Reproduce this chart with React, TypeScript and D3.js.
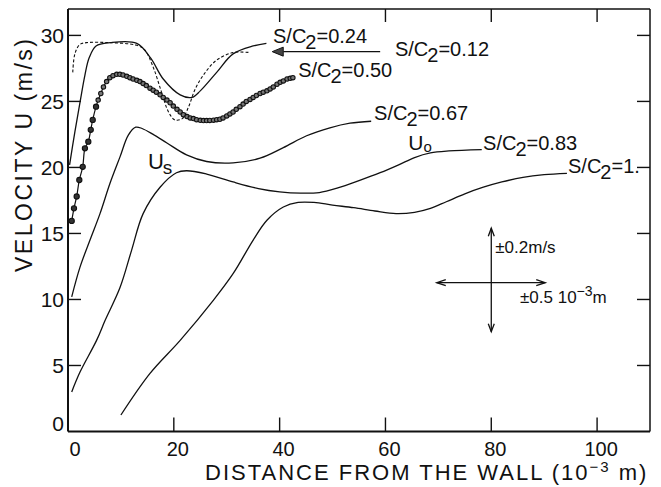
import React, { useEffect, useRef } from "react";
import * as d3 from "d3";

const W = 661;
const H = 487;

// axis ticks
const xTicks = [0, 20, 40, 60, 80, 100];
const yTicks = [0, 5, 10, 15, 20, 25, 30];

// velocity profiles, [distance (10^-3 m), U (m/s)]
const profile024 = [
  [0.3, 20.2], [1.3, 22.7], [2.3, 25.0], [3.2, 27.0], [4.0, 28.3], [5.3, 29.2],
  [8.0, 29.45], [13.0, 29.4], [15.6, 28.3], [18.0, 26.7], [21.2, 25.5], [23.4, 25.3],
  [25.0, 25.8], [28.1, 27.2], [31.2, 28.6], [35.0, 29.2], [37.5, 29.4],
];

const profile012 = [
  [0.9, 27.2], [1.3, 28.6], [2.2, 29.3], [3.5, 29.45], [8.0, 29.45], [13.0, 29.25],
  [14.5, 28.9], [16.1, 27.6], [17.6, 25.8], [19.0, 24.2], [20.2, 23.6], [21.6, 23.7],
  [22.8, 24.6], [24.0, 25.9], [25.6, 27.0], [28.0, 28.1], [31.2, 28.7], [34.4, 28.7],
];

const profile050 = [
  [0.7, 15.95], [1.13, 16.9], [1.64, 17.8], [2.14, 19.05], [2.78, 20.05], [3.2, 21.45],
  [3.84, 21.95], [4.3, 22.85], [4.67, 23.6], [5.3, 24.6], [5.7, 25.1], [6.2, 25.6],
  [6.7, 26.1], [7.3, 26.5], [7.9, 26.8], [8.5, 26.95], [9.2, 27.05], [9.8, 27.05],
  [10.4, 27.0], [11.1, 26.9], [11.7, 26.8], [12.3, 26.7], [13.0, 26.6], [13.6, 26.5],
  [14.2, 26.35], [14.8, 26.2], [15.5, 26.0], [16.1, 25.85], [16.7, 25.7], [17.4, 25.5],
  [18.0, 25.3], [18.7, 25.1], [19.3, 24.9], [19.9, 24.65], [20.6, 24.4], [21.2, 24.2],
  [21.8, 24.0], [22.5, 23.85], [23.1, 23.75], [23.7, 23.7], [24.3, 23.62], [25.0, 23.57],
  [25.6, 23.55], [26.2, 23.55], [26.8, 23.56], [27.5, 23.58], [28.1, 23.62], [28.7, 23.65],
  [29.3, 23.75], [30.0, 23.9], [30.6, 24.05], [31.2, 24.2], [31.8, 24.4], [32.5, 24.6],
  [33.1, 24.8], [33.7, 25.0], [34.4, 25.15], [35.0, 25.3], [35.6, 25.45], [36.3, 25.6],
  [36.9, 25.7], [37.6, 25.8], [38.2, 25.95], [38.8, 26.1], [39.5, 26.3], [40.1, 26.45],
  [40.7, 26.55], [41.4, 26.7], [42.0, 26.75], [42.5, 26.8],
];

const profile067 = [
  [0.7, 10.2], [2.27, 12.45], [4.16, 14.5], [6.05, 16.5], [7.94, 18.8], [9.83, 20.8],
  [11.4, 22.45], [12.8, 23.05], [14.0, 22.95], [16.1, 22.5], [18.7, 21.85], [22.4, 20.95],
  [26.2, 20.45], [31.2, 20.35], [36.3, 20.7], [40.7, 21.5], [45.1, 22.4], [49.5, 23.0],
  [53.3, 23.35], [57.3, 23.5],
];

const profile083 = [
  [0.7, 3.0], [2.27, 4.5], [5.4, 6.9], [7.0, 8.4], [9.83, 10.9], [12.0, 13.7],
  [14.2, 16.5], [17.4, 18.5], [20.5, 19.6], [22.4, 19.75], [26.2, 19.5], [31.2, 18.9],
  [36.0, 18.4], [40.0, 18.15], [44.0, 18.05], [47.5, 18.1], [51.0, 18.45], [55.0, 19.0],
  [59.0, 19.6], [62.5, 20.2], [65.5, 20.75], [68.5, 21.1], [72.0, 21.25], [78.2, 21.35],
];

const profile100 = [
  [10.0, 1.25], [15.5, 4.4], [21.2, 6.9], [27.5, 9.95], [31.2, 11.95], [35.0, 14.5],
  [37.6, 16.0], [40.7, 17.0], [43.5, 17.35], [46.5, 17.35], [50.0, 17.15], [54.0, 16.95],
  [58.0, 16.7], [62.0, 16.5], [65.5, 16.6], [68.5, 16.9], [71.5, 17.4], [75.0, 18.0],
  [78.5, 18.5], [82.0, 18.9], [86.0, 19.25], [90.0, 19.45], [94.3, 19.55],
];

// curve labels: S/C2 value and anchor (data units)
const ratioLabels = [
  { value: "0.24", x: 38.75, y: 29.43 },
  { value: "0.12", x: 61.8, y: 28.45 },
  { value: "0.50", x: 43.5, y: 26.85 },
  { value: "0.67", x: 57.85, y: 23.6 },
  { value: "0.83", x: 78.45, y: 21.33 },
  { value: "1.", x: 94.5, y: 19.58 },
];

const FONT = "'Liberation Sans', Arial, sans-serif";

const App = () => {
  const ref = useRef(null);

  useEffect(() => {
    const svg = d3.select(ref.current);
    svg.selectAll("*").remove();

    const x = d3.scaleLinear().domain([0, 110]).range([68, 650]);
    const y = d3.scaleLinear().domain([0, 32]).range([431.5, 9]);

    svg.append("rect").attr("width", W).attr("height", H).attr("fill", "#fff");

    const g = svg.append("g").attr("font-family", FONT).attr("fill", "#111");

    // frame
    const x0 = x(0), x1 = x(110), y0 = y(0), y1 = y(32);
    g.append("line").attr("x1", x0).attr("x2", x0).attr("y1", y1).attr("y2", y0)
      .attr("stroke", "#111").attr("stroke-width", 2);
    g.append("line").attr("x1", x0).attr("x2", x1).attr("y1", y0).attr("y2", y0)
      .attr("stroke", "#111").attr("stroke-width", 2);
    g.append("line").attr("x1", x0).attr("x2", x1).attr("y1", y1).attr("y2", y1)
      .attr("stroke", "#111").attr("stroke-width", 1.5);
    g.append("line").attr("x1", x1).attr("x2", x1).attr("y1", y1).attr("y2", y0)
      .attr("stroke", "#111").attr("stroke-width", 1.5);

    // inward ticks on all four sides
    const tk = g.append("g").attr("stroke", "#111").attr("stroke-width", 1.4);
    xTicks.filter(d => d > 0).forEach(d => {
      tk.append("line").attr("x1", x(d)).attr("x2", x(d)).attr("y1", y0).attr("y2", y0 - 14);
      tk.append("line").attr("x1", x(d)).attr("x2", x(d)).attr("y1", y1).attr("y2", y1 + 13);
    });
    yTicks.filter(d => d > 0).forEach(d => {
      tk.append("line").attr("x1", x0).attr("x2", x0 + 13).attr("y1", y(d)).attr("y2", y(d));
      tk.append("line").attr("x1", x1).attr("x2", x1 - 13).attr("y1", y(d)).attr("y2", y(d));
    });

    // tick labels
    g.selectAll(".xl").data(xTicks).enter().append("text")
      .attr("x", d => x(d) + (d === 0 ? 7 : 4))
      .attr("y", 455.5)
      .attr("text-anchor", "middle")
      .attr("font-size", 20)
      .text(d => d);
    g.selectAll(".yl").data(yTicks).enter().append("text")
      .attr("x", 64)
      .attr("y", d => y(d) + (d === 0 ? -8 : 0))
      .attr("dy", "0.36em")
      .attr("text-anchor", "end")
      .attr("font-size", 21)
      .text(d => d);

    // axis titles
    const xt = g.append("text").attr("x", 205).attr("y", 480)
      .attr("font-size", 22).attr("letter-spacing", 2);
    xt.append("tspan").text("DISTANCE FROM THE WALL (10");
    xt.append("tspan").attr("dy", -8).attr("font-size", 15).text("\u22123");
    xt.append("tspan").attr("dy", 8).text(" m)");

    g.append("text")
      .attr("transform", "translate(32,155.5) rotate(-90)")
      .attr("text-anchor", "middle")
      .attr("font-size", 23)
      .attr("textLength", 233)
      .attr("lengthAdjust", "spacing")
      .text("VELOCITY U (m/s)");

    // curves
    const line = d3.line()
      .x(d => x(d[0]))
      .y(d => y(d[1]))
      .curve(d3.curveCatmullRom.alpha(0.5));

    const curves = g.append("g").attr("fill", "none").attr("stroke", "#111");
    curves.append("path").attr("d", line(profile024)).attr("stroke-width", 1.3);
    curves.append("path").attr("d", line(profile012)).attr("stroke-width", 1.1)
      .attr("stroke-dasharray", "3,2");
    curves.append("path").attr("d", line(profile050)).attr("stroke-width", 1.2);
    curves.append("path").attr("d", line(profile067)).attr("stroke-width", 1.3);
    curves.append("path").attr("d", line(profile083)).attr("stroke-width", 1.3);
    curves.append("path").attr("d", line(profile100)).attr("stroke-width", 1.3);

    g.append("g").selectAll("circle").data(profile050).enter().append("circle")
      .attr("cx", d => x(d[0]))
      .attr("cy", d => y(d[1]))
      .attr("r", (d, i) => (i < 10 ? 2.6 : 2.2))
      .attr("fill", (d, i) => (i < 10 ? "#333" : "#777"))
      .attr("stroke", "#111")
      .attr("stroke-width", 1.1);

    // S/C2 labels
    ratioLabels.forEach(l => {
      const t = g.append("text").attr("x", x(l.x)).attr("y", y(l.y)).attr("font-size", 20);
      t.append("tspan").text("S/C");
      t.append("tspan").attr("dx", -1).attr("dy", 6).text("2");
      t.append("tspan").attr("dy", -6).text("=" + l.value);
    });

    // arrow to the dashed S/C2=0.12 curve
    const ay = y(28.77);
    g.append("line").attr("x1", x(59.0)).attr("x2", x(40.7)).attr("y1", ay).attr("y2", ay)
      .attr("stroke", "#111").attr("stroke-width", 1.2);
    const tip = x(38.6);
    g.append("path")
      .attr("d", `M${tip},${ay}L${tip + 11},${ay - 4.5}L${tip + 11},${ay + 4.5}Z`)
      .attr("fill", "#444").attr("stroke", "#111").attr("stroke-width", 1);

    // Us and U0 markers
    const us = g.append("text").attr("x", x(15.1)).attr("y", y(19.9)).attr("font-size", 22);
    us.append("tspan").text("U");
    us.append("tspan").attr("dx", -1).attr("dy", 5).attr("font-size", 19).text("s");
    const u0 = g.append("text").attr("x", x(64.3)).attr("y", y(21.35)).attr("font-size", 21);
    u0.append("tspan").text("U");
    u0.append("tspan").attr("dy", 2).attr("font-size", 15).text("o");

    // uncertainty cross
    const cx = x(80.0), cy = y(11.27);
    const top = y(15.4), bot = y(7.56), lft = x(69.7), rgt = x(90.2);
    const cross = g.append("g").attr("stroke", "#111").attr("stroke-width", 1.3).attr("fill", "none");
    cross.append("line").attr("x1", cx).attr("x2", cx).attr("y1", top).attr("y2", bot);
    cross.append("line").attr("x1", lft).attr("x2", rgt).attr("y1", cy).attr("y2", cy);
    cross.append("path").attr("d", `M${cx - 3},${top + 8}L${cx},${top}L${cx + 3},${top + 8}`);
    cross.append("path").attr("d", `M${cx - 3},${bot - 8}L${cx},${bot}L${cx + 3},${bot - 8}`);
    cross.append("path").attr("d", `M${lft + 9},${cy - 3}L${lft},${cy}L${lft + 9},${cy + 3}`);
    cross.append("path").attr("d", `M${rgt - 9},${cy - 3}L${rgt},${cy}L${rgt - 9},${cy + 3}`);

    g.append("text").attr("x", cx + 4).attr("y", 252.5).attr("font-size", 17).text("\u00b10.2m/s");
    const e2 = g.append("text").attr("x", 520).attr("y", 302.5).attr("font-size", 17);
    e2.append("tspan").text("\u00b10.5 10");
    e2.append("tspan").attr("dy", -7).attr("font-size", 14).text("\u22123");
    e2.append("tspan").attr("dy", 7).text("m");
  }, []);

  return (
    <svg
      ref={ref}
      width={W}
      height={H}
      style={{ position: "absolute", left: 0, top: 0 }}
    />
  );
};

export default App;
